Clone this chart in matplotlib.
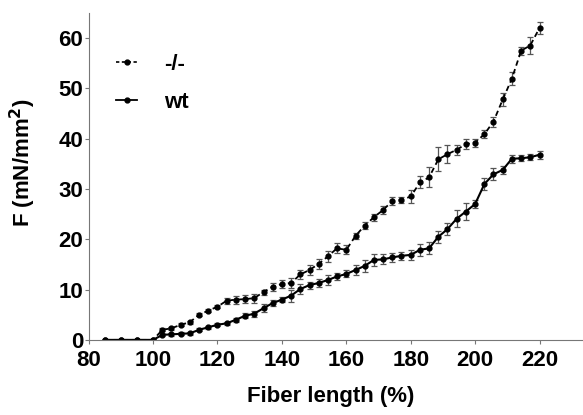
import numpy as np
import matplotlib
matplotlib.use('Agg')
import matplotlib.pyplot as plt
from matplotlib.lines import Line2D

plt.rcParams['font.family'] = ['Liberation Sans', 'DejaVu Sans']

# fiber length (%)
length = [85, 90, 95,
          100, 102.9, 105.7, 108.6, 111.4, 114.3, 117.1, 120, 122.9, 125.7,
          128.6, 131.4, 134.3, 137.1, 140, 142.9, 145.7, 148.6, 151.4, 154.3,
          157.1, 160, 162.9, 165.7, 168.6, 171.4, 174.3, 177.1, 180, 182.9,
          185.7, 188.6, 191.4, 194.3, 197.1, 200, 202.9, 205.7, 208.6, 211.4,
          214.3, 217.1, 220]

# -/- force (mN/mm2) and sem
ko_force = [0, 0, 0,
            0, 2.0, 2.3, 3.0, 3.5, 5.0, 5.8, 6.6, 7.8, 8.0,
            8.1, 8.3, 9.5, 10.6, 11.1, 11.3, 13.0, 13.9, 15.1, 16.6,
            18.2, 17.9, 20.7, 22.7, 24.4, 25.8, 27.6, 27.8, 28.5, 31.3,
            32.3, 35.9, 36.9, 37.8, 38.9, 39.2, 40.9, 43.4, 47.8, 51.9,
            57.5, 58.5, 62.0]
ko_err = [0, 0, 0,
          0, 0.3, 0.3, 0.3, 0.3, 0.3, 0.3, 0.3, 0.6, 0.8,
          0.8, 0.9, 0.5, 0.8, 0.8, 1.0, 0.9, 1.0, 1.0, 1.1,
          1.0, 0.9, 0.6, 0.7, 0.7, 0.8, 0.8, 0.6, 1.3, 1.2,
          2.0, 2.4, 1.8, 1.0, 1.0, 0.8, 0.8, 1.0, 1.3, 1.3,
          0.8, 1.7, 1.2]

# wt force (mN/mm2) and sem
wt_force = [0, 0, 0,
            0, 1.0, 1.1, 1.2, 1.3, 2.0, 2.5, 3.0, 3.3, 4.0,
            4.8, 5.2, 6.3, 7.3, 8.0, 8.8, 10.1, 10.9, 11.3, 11.9,
            12.6, 13.1, 13.9, 14.7, 15.9, 16.0, 16.4, 16.7, 16.9, 17.9,
            18.2, 20.5, 22.0, 24.1, 25.5, 27.0, 31.0, 32.9, 33.8, 36.0,
            36.1, 36.3, 36.8]
wt_err = [0, 0, 0,
          0, 0.3, 0.3, 0.3, 0.3, 0.3, 0.3, 0.3, 0.3, 0.4,
          0.5, 0.6, 0.8, 0.6, 0.5, 1.2, 1.0, 0.7, 0.8, 1.0,
          0.7, 0.7, 1.0, 1.2, 1.2, 1.0, 0.9, 0.8, 1.0, 1.2,
          1.2, 1.2, 1.2, 1.7, 1.7, 0.8, 1.2, 1.2, 0.8, 0.8,
          0.6, 0.6, 0.8]

fig = plt.figure(figsize=(5.83, 4.15), dpi=100)
ax = fig.add_axes([0.152, 0.181, 0.848, 0.788])

ax.errorbar(length, ko_force, yerr=ko_err, color='black', linestyle='--',
            linewidth=1.3, marker='o', markersize=3.5, ecolor='#555555',
            elinewidth=0.9, capsize=2.2, capthick=0.9, dashes=(3, 2))
ax.errorbar(length, wt_force, yerr=wt_err, color='black', linestyle='-',
            linewidth=1.5, marker='o', markersize=3.5, ecolor='#555555',
            elinewidth=0.9, capsize=2.2, capthick=0.9)

ax.set_xlim(80, 233.5)
ax.set_ylim(0, 65)
ax.set_xticks(np.arange(80, 221, 20))
ax.set_yticks(np.arange(0, 61, 10))
ax.spines['top'].set_visible(False)
ax.spines['right'].set_visible(False)
ax.spines['left'].set_color('#777777')
ax.spines['bottom'].set_color('#777777')
ax.tick_params(length=3, width=0.8, color='#777777', labelsize=16, pad=1)
ax.tick_params(axis='x', pad=4)
for t in ax.get_xticklabels() + ax.get_yticklabels():
    t.set_fontweight('bold')

fig.text(331 / 583, 1 - 396 / 415, 'Fiber length (%)', fontsize=16,
         fontweight='bold', ha='center', va='center')
fig.text(23 / 583, 1 - 163 / 415, 'F (mN/mm$^\\mathbf{2}$)', fontsize=16,
         fontweight='bold', ha='center', va='center', rotation=90)

handles = [Line2D([], [], color='black', linestyle='--', dashes=(2, 1.5),
                  linewidth=1.2, marker='o', markersize=3.5),
           Line2D([], [], color='black', linestyle='-', linewidth=1.3,
                  marker='o', markersize=3.5)]
fig.legend(handles, ['-/-', 'wt'], loc='upper left',
           bbox_to_anchor=(116 / 583, 1 - 54 / 415), frameon=False,
           borderpad=0, borderaxespad=0,
           prop={'weight': 'bold', 'size': 16}, handlelength=0.95,
           handletextpad=1.2, labelspacing=0.75)

plt.savefig('out.png', format='png', dpi=100)
